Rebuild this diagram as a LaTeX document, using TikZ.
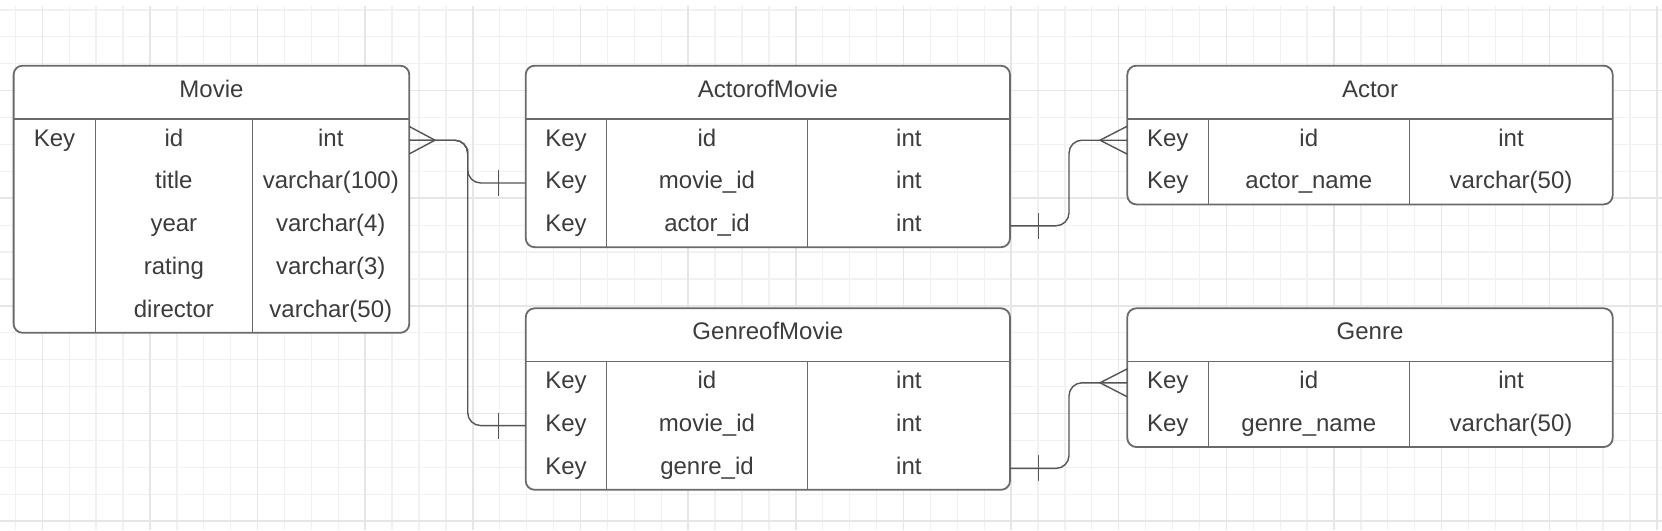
\documentclass[tikz,border=0pt]{standalone}
\usepackage{fontspec}
\setmainfont{Liberation Sans}
\definecolor{gridminor}{HTML}{F1F1F1}
\definecolor{gridmajor}{HTML}{E6E6E6}
\definecolor{boxline}{HTML}{6A6A6A}
\definecolor{txt}{HTML}{3C3C3C}
\definecolor{conn}{HTML}{555555}
\tikzset{
  gridmin/.style={draw=gridminor, line width=1.3pt},
  gridmaj/.style={draw=gridmajor, line width=1.5pt},
  tablebox/.style={draw=boxline, line width=1.8pt, fill=white, rounded corners=9pt},
  divline/.style={draw=boxline, line width=1.5pt},
  celltext/.style={inner sep=0pt, anchor=base, text=txt, font=\fontsize{24}{28}\selectfont},
  connector/.style={draw=conn, line width=1.4pt, rounded corners=13pt},
  crow/.style={draw=conn, line width=1.4pt},
}
% table: name, L, R, T, c1, c2, nrows, title
\newcommand\ertable[8]{%
  \pgfmathsetmacro\eL{#2}%
  \pgfmathsetmacro\eR{#3}%
  \pgfmathsetmacro\eCa{#5}%
  \pgfmathsetmacro\eCb{#6}%
  \pgfmathsetmacro\eH{#4+53.1}%
  \pgfmathsetmacro\eB{\eH+#7*42.8}%
  \path[tablebox] (#2,#4) rectangle (#3,\eB);
  \draw[divline] (#2,\eH) -- (#3,\eH);
  \draw[divline] (#5,\eH) -- (#5,\eB);
  \draw[divline] (#6,\eH) -- (#6,\eB);
  \node[celltext] (#1-title) at ({(#2+#3)/2},{#4+31.6}) {#8};
}
% row: name, index, key, field, type
\newcommand\errow[5]{%
  \pgfmathsetmacro\eY{\eH+(#2-1)*42.8}%
  \node[celltext] (#1-k#2) at ({(\eL+\eCa)/2},{\eY+27.2}) {#3};
  \node[celltext] (#1-f#2) at ({(\eCa+\eCb)/2},{\eY+27.2}) {#4};
  \node[celltext] (#1-t#2) at ({(\eCb+\eR)/2},{\eY+27.2}) {#5};
  \coordinate (#1-l#2) at (\eL,{\eY+21.4});
  \coordinate (#1-r#2) at (\eR,{\eY+21.4});
}
\begin{document}
\begin{tikzpicture}[x=1pt,y=-1pt]
\useasboundingbox (0,0) rectangle (1662,530);
\fill[white] (0,0) rectangle (1662,530);
% grid
\foreach \k in {0,...,61} {
  \pgfmathsetmacro\gx{15.4+26.91*\k}
  \draw[gridmin] (\gx,6) -- (\gx,530);
}
\foreach \k in {0,...,19} {
  \pgfmathsetmacro\gy{9.9+26.91*\k}
  \draw[gridmin] (0,\gy) -- (1662,\gy);
}
\foreach \k in {0,...,15} {
  \pgfmathsetmacro\gx{42.3+107.64*\k}
  \draw[gridmaj] (\gx,6) -- (\gx,530);
}
\foreach \k in {0,...,4} {
  \pgfmathsetmacro\gy{90.6+107.64*\k}
  \draw[gridmaj] (0,\gy) -- (1662,\gy);
}

% Movie
\ertable{movie}{13.6}{409.3}{65.7}{95.4}{252.3}{5}{Movie}
\errow{movie}{1}{Key}{id}{int}
\errow{movie}{2}{}{title}{varchar(100)}
\errow{movie}{3}{}{year}{varchar(4)}
\errow{movie}{4}{}{rating}{varchar(3)}
\errow{movie}{5}{}{director}{varchar(50)}

% ActorofMovie
\ertable{aom}{525.7}{1010}{65.7}{606.3}{807.7}{3}{ActorofMovie}
\errow{aom}{1}{Key}{id}{int}
\errow{aom}{2}{Key}{movie\_id}{int}
\errow{aom}{3}{Key}{actor\_id}{int}

% Actor
\ertable{actor}{1127.3}{1612.7}{65.7}{1208.3}{1409.3}{2}{Actor}
\errow{actor}{1}{Key}{id}{int}
\errow{actor}{2}{Key}{actor\_name}{varchar(50)}

% GenreofMovie
\ertable{gom}{525.7}{1010}{308.3}{606.3}{807.7}{3}{GenreofMovie}
\errow{gom}{1}{Key}{id}{int}
\errow{gom}{2}{Key}{movie\_id}{int}
\errow{gom}{3}{Key}{genre\_id}{int}

% Genre
\ertable{genre}{1127.3}{1612.7}{308.3}{1208.3}{1409.3}{2}{Genre}
\errow{genre}{1}{Key}{id}{int}
\errow{genre}{2}{Key}{genre\_name}{varchar(50)}

% bus coordinates
\coordinate (busA1) at (467.7,162);
\coordinate (busA2) at (467.7,300);
\coordinate (busB) at (1069,183);
\coordinate (busC) at (1069,425);

% connectors Movie -> ActorofMovie / GenreofMovie
\draw[connector] (movie-r1) -| (busA1) |- (aom-l2);
\draw[connector] (movie-r1) -| (busA2) |- (gom-l2);
% crow's foot at Movie.id
\coordinate (mcrow) at ([xshift=25.7pt]movie-r1);
\draw[crow] ([yshift=13.7pt]movie-r1) -- (mcrow) -- ([yshift=-13.7pt]movie-r1);
% ticks
\draw[crow] ([xshift=-27.4pt,yshift=13pt]aom-l2) -- ([xshift=-27.4pt,yshift=-13pt]aom-l2);
\draw[crow] ([xshift=-27.4pt,yshift=13pt]gom-l2) -- ([xshift=-27.4pt,yshift=-13pt]gom-l2);

% ActorofMovie -> Actor
\draw[connector] (aom-r3) -| (busB) |- (actor-l1);
\draw[crow] ([xshift=28.3pt,yshift=13pt]aom-r3) -- ([xshift=28.3pt,yshift=-13pt]aom-r3);
\coordinate (acrow) at ([xshift=-27.3pt]actor-l1);
\draw[crow] ([yshift=14pt]actor-l1) -- (acrow) -- ([yshift=-14pt]actor-l1);

% GenreofMovie -> Genre
\draw[connector] (gom-r3) -| (busC) |- (genre-l1);
\draw[crow] ([xshift=28.3pt,yshift=13pt]gom-r3) -- ([xshift=28.3pt,yshift=-13pt]gom-r3);
\coordinate (gcrow) at ([xshift=-27.3pt]genre-l1);
\draw[crow] ([yshift=14pt]genre-l1) -- (gcrow) -- ([yshift=-14pt]genre-l1);
\end{tikzpicture}
\end{document}
